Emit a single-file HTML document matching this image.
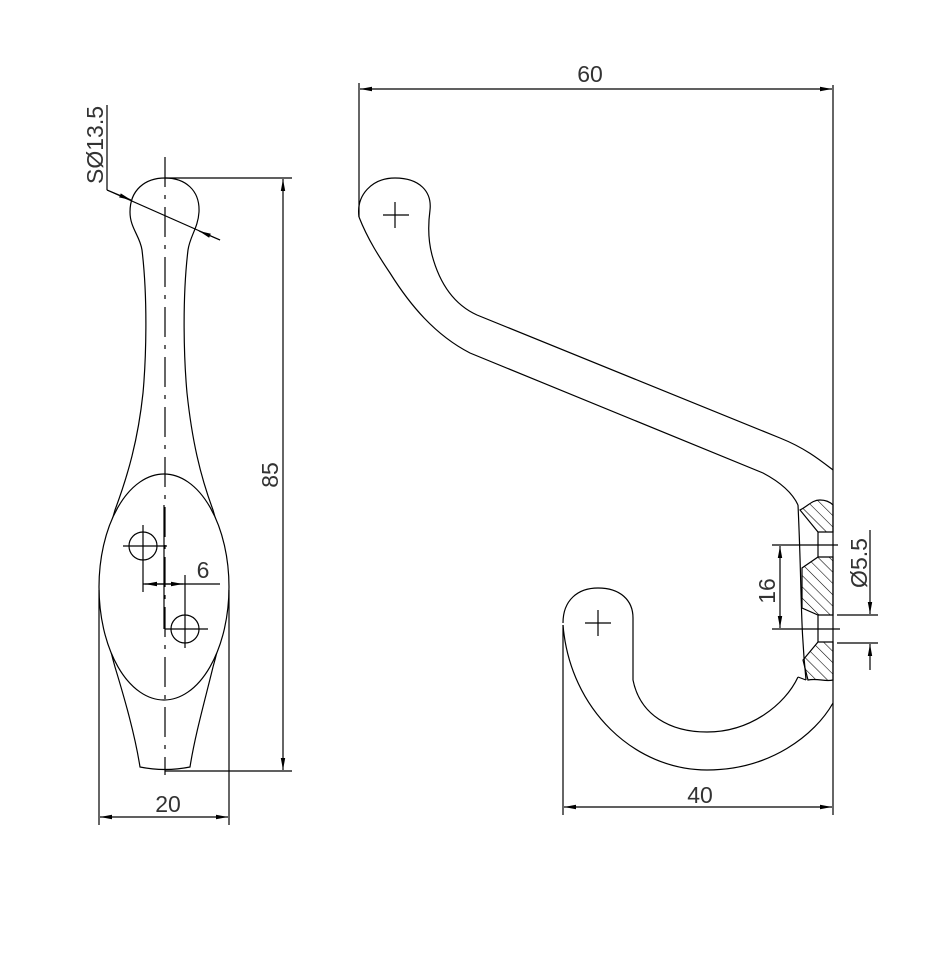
<!DOCTYPE html>
<html><head><meta charset="utf-8"><style>
html,body{margin:0;padding:0;background:#fff;}
svg{display:block;}
text{font-family:"Liberation Sans",sans-serif;font-size:23px;fill:#333;}
</style></head><body>
<svg width="933" height="973" viewBox="0 0 933 973" xmlns="http://www.w3.org/2000/svg">
<defs>
<marker id="a" viewBox="0 0 12 6" refX="12" refY="3" markerWidth="12" markerHeight="6" orient="auto" markerUnits="userSpaceOnUse"><path d="M0,0.8 L12,3 L0,5.2z" fill="#000"/></marker>
<pattern id="h" width="8" height="8" patternUnits="userSpaceOnUse" patternTransform="rotate(-45)"><line x1="0" y1="0" x2="0" y2="8" stroke="#000" stroke-width="1.1"/></pattern>
</defs>
<g fill="none" stroke="#000" stroke-width="1.2">
<!-- LEFT VIEW -->
<path d="M165,178 C185,178 200,190 199,212 C198,228 190,236 188,250 C182,300 184,360 187,393 C192,440 200,475 213,510 C228,560 232,600 213,667 C205,700 195,735 190,767 Q165,772 140,767 C135,735 125,700 115,667 C96,600 100,560 115,510 C128,475 138,440 143,393 C146,360 148,300 142,250 C140,236 130,228 130,212 C130,190 145,178 165,178Z"/>
<ellipse cx="164" cy="587" rx="65" ry="113" fill="#fff"/>
<line x1="165" y1="157" x2="165" y2="775" stroke-dasharray="30,8,4,8"/>
<circle cx="143" cy="546" r="14"/>
<line x1="123" y1="546" x2="167" y2="546"/><line x1="143" y1="525" x2="143" y2="592"/>
<circle cx="185" cy="629" r="14"/>
<line x1="165" y1="629" x2="208" y2="629"/><line x1="185" y1="575" x2="185" y2="648"/>
<line x1="164" y1="505" x2="164" y2="629"/>
<line x1="143" y1="584" x2="220" y2="584"/>
<line x1="164" y1="584" x2="145" y2="584" marker-end="url(#a)"/>
<line x1="164" y1="584" x2="183" y2="584" marker-end="url(#a)"/>
<!-- 85 -->
<line x1="165" y1="178" x2="292" y2="178"/><line x1="165" y1="771" x2="292" y2="771"/>
<line x1="283" y1="475" x2="283" y2="179" marker-end="url(#a)"/>
<line x1="283" y1="475" x2="283" y2="770" marker-end="url(#a)"/>
<!-- 20 -->
<line x1="99" y1="590" x2="99" y2="825"/><line x1="229" y1="590" x2="229" y2="825"/>
<line x1="164" y1="817" x2="100" y2="817" marker-end="url(#a)"/>
<line x1="164" y1="817" x2="228" y2="817" marker-end="url(#a)"/>
<!-- SØ leader -->
<line x1="107" y1="105" x2="107" y2="190"/>
<line x1="107" y1="190" x2="220" y2="240"/>
<line x1="107" y1="190" x2="131" y2="200" marker-end="url(#a)"/>
<line x1="220" y1="240" x2="199" y2="231" marker-end="url(#a)"/>

<!-- RIGHT VIEW -->
<path d="M359,217 C356,195 372,178 395,178 C420,178 432,192 430,210 C428,225 428,240 432,255 C440,285 455,305 477,315 L780,438 C805,448 820,460 833,470"/>
<path d="M359,217 C368,240 380,258 390,273 C410,305 435,335 470,353 L763,473 C780,482 792,492 798,505"/>
<line x1="383" y1="215" x2="409" y2="215"/><line x1="395" y1="202" x2="395" y2="228"/>
<!-- lower hook -->
<path d="M563,623 C563,600 578,588 598,588 C620,588 633,600 633,618 L633,680 C640,715 670,732 707,732 C750,732 785,705 798,677"/>
<path d="M563,625 C570,710 635,770 707,770 C770,770 815,735 833,703"/>
<line x1="585" y1="623" x2="611" y2="623"/><line x1="598" y1="610" x2="598" y2="636"/>
<!-- wall section -->
<path d="M798,505 C802,590 800,620 806,680"/>
<path d="M800,510 C808,506 812,500 820,500 C826,500 830,502 833,505 L833,532 L818,532 Z" fill="url(#h)"/>
<path d="M818,557 L833,557 L833,615 L818,615 L802,608 L802,568 Z" fill="url(#h)"/>
<path d="M818,642 L833,642 L833,680 C825,682 818,678 808,680 L803,660 Z" fill="url(#h)"/>
<line x1="818" y1="532" x2="818" y2="557"/>
<line x1="818" y1="615" x2="818" y2="642"/>
<line x1="806" y1="680" x2="798" y2="677"/>
<line x1="833" y1="85" x2="833" y2="815"/>
<!-- 60 -->
<line x1="359" y1="83" x2="359" y2="217"/>
<line x1="596" y1="89" x2="360" y2="89" marker-end="url(#a)"/>
<line x1="596" y1="89" x2="832" y2="89" marker-end="url(#a)"/>
<!-- 40 -->
<line x1="563" y1="625" x2="563" y2="815"/>
<line x1="698" y1="807" x2="564" y2="807" marker-end="url(#a)"/>
<line x1="698" y1="807" x2="832" y2="807" marker-end="url(#a)"/>
<!-- 16 -->
<line x1="772" y1="545" x2="838" y2="545"/><line x1="772" y1="629" x2="840" y2="629"/>
<line x1="780" y1="587" x2="780" y2="546" marker-end="url(#a)"/>
<line x1="780" y1="587" x2="780" y2="628" marker-end="url(#a)"/>
<!-- Ø5.5 -->
<line x1="837" y1="615" x2="878" y2="615"/><line x1="837" y1="643" x2="878" y2="643"/>
<line x1="870" y1="530" x2="870" y2="614" marker-end="url(#a)"/>
<line x1="870" y1="670" x2="870" y2="644" marker-end="url(#a)"/>
</g>
<text x="590" y="82" text-anchor="middle">60</text>
<text x="700" y="803" text-anchor="middle">40</text>
<text x="168" y="812" text-anchor="middle">20</text>
<text x="203" y="578" text-anchor="middle">6</text>
<text transform="translate(278,475) rotate(-90)" text-anchor="middle">85</text>
<text transform="translate(775,591) rotate(-90)" text-anchor="middle">16</text>
<text transform="translate(867,563) rotate(-90)" text-anchor="middle">Ø5.5</text>
<text transform="translate(103,145) rotate(-90)" text-anchor="middle">SØ13.5</text>
</svg>
</body></html>
